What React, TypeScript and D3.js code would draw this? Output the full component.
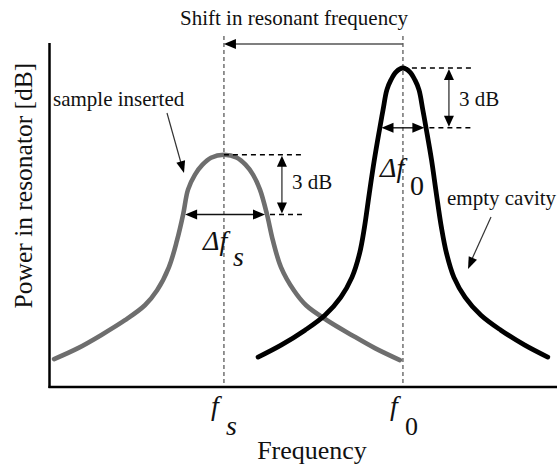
import React from "react";
import * as d3 from "d3";

// ---- data ----
// frequency axis in arbitrary units, power in dB (0 dB = empty-cavity peak)
const sampleFreq = [0.09, 0.56, 1.01, 1.48, 1.87, 2.11, 2.34, 2.5, 2.62, 2.716, 2.853, 3.0, 3.167, 3.42, 3.676, 3.843, 3.99, 4.127, 4.265, 4.38, 4.54, 4.79, 5.03, 5.44, 5.93, 6.38, 6.87];
const samplePower = [-14.6, -14.05, -13.4, -12.65, -11.9, -11.15, -10.0, -8.65, -7.35, -6.1, -5.35, -4.85, -4.5, -4.35, -4.5, -4.85, -5.35, -6.1, -7.35, -8.65, -10.0, -11.15, -11.9, -12.65, -13.4, -14.05, -14.65];

const emptyFreq = [4.09, 4.54, 5.01, 5.4, 5.71, 5.93, 6.08, 6.175, 6.27, 6.37, 6.47, 6.54, 6.615, 6.695, 6.795, 6.93, 7.065, 7.165, 7.245, 7.32, 7.39, 7.49, 7.585, 7.685, 7.785, 7.93, 8.15, 8.46, 8.85, 9.32, 9.77];
const emptyPower = [-14.5, -13.9, -13.15, -12.4, -11.5, -10.5, -9.3, -8.0, -6.3, -4.6, -3.1, -2.1, -1.1, -0.6, -0.2, 0, -0.2, -0.6, -1.1, -2.1, -3.1, -4.6, -6.3, -8.0, -9.3, -10.5, -11.5, -12.4, -13.15, -13.9, -14.5];

const resonantFreq = [3.42, 6.93]; // f_s, f_0
const peakPower = [-4.35, 0];
const halfPowerEdges = [
  [2.62, 4.265],
  [6.47, 7.39],
];
const tickSubscripts = ["s", "0"];
const titleShift = "Shift in resonant frequency";
const labelSample = "sample inserted";
const labelEmpty = "empty cavity";
const label3dB = "3 dB";
const xTitle = "Frequency";
const yTitle = "Power in resonator [dB]";

const W = 557;
const H = 469;
const serif = '"Liberation Serif", "Times New Roman", Times, "DejaVu Serif", serif';
const ff = { fontFamily: serif };

function head(tx: number, ty: number, fromX: number, fromY: number, len = 11, wid = 9) {
  const a = Math.atan2(ty - fromY, tx - fromX);
  const bx = tx - len * Math.cos(a);
  const by = ty - len * Math.sin(a);
  const px = (wid / 2) * Math.cos(a + Math.PI / 2);
  const py = (wid / 2) * Math.sin(a + Math.PI / 2);
  return `${tx},${ty} ${bx + px},${by + py} ${bx - px},${by - py}`;
}

export default function App() {
  const x = d3.scaleLinear().domain([0, 10]).range([49.5, 559.5]);
  const y = d3.scaleLinear().domain([-16, 0]).range([387, 68]);

  const line = d3
    .line<[number, number]>()
    .x((d) => x(d[0]))
    .y((d) => y(d[1]))
    .curve(d3.curveCatmullRom.alpha(0.5));

  const samplePts = sampleFreq.map((f, i) => [f, samplePower[i]] as [number, number]);
  const emptyPts = emptyFreq.map((f, i) => [f, emptyPower[i]] as [number, number]);

  const xs = x(resonantFreq[0]);
  const x0 = x(resonantFreq[1]);
  const axisY = y(-16);
  const axisX = x(0);

  const markers = resonantFreq.map((f, i) => {
    const cx = x(f);
    const pk = y(peakPower[i]);
    const hp = y(peakPower[i] - 3);
    const left = x(halfPowerEdges[i][0]) + 2;
    const right = x(halfPowerEdges[i][1]) - 2;
    const dashEnd = i === 0 ? cx + 78 : cx + 69;
    const vx = i === 0 ? cx + 58 : cx + 46;
    return { cx, pk, hp, left, right, dashEnd, vx };
  });

  return (
    <svg
      width={W}
      height={H}
      style={{ position: "absolute", left: 0, top: 0, background: "#fff", fontFamily: serif }}
    >
      {resonantFreq.map((f, i) => (
        <line
          key={"v" + i}
          x1={x(f)}
          x2={x(f)}
          y1={36}
          y2={axisY}
          stroke="#7a7a7a"
          strokeWidth={1.6}
          strokeDasharray="4,3"
        />
      ))}

      <text x={294} y={25} fontSize={21} textAnchor="middle" fill="#111" style={ff}>
        {titleShift}
      </text>
      <line x1={x0} x2={xs + 10} y1={44} y2={44} stroke="#555" strokeWidth={1.5} />
      <polygon points={head(xs, 44, x0, 44, 12, 10)} fill="#000" />

      <path d={line(samplePts) || ""} fill="none" stroke="#6e6e6e" strokeWidth={4.6} strokeLinecap="round" />
      <path d={line(emptyPts) || ""} fill="none" stroke="#000" strokeWidth={4.8} strokeLinecap="round" />

      {markers.map((m, i) => (
        <g key={"m" + i}>
          <line x1={m.cx} x2={m.dashEnd} y1={m.pk} y2={m.pk} stroke="#000" strokeWidth={1.6} strokeDasharray="5,4" />
          <line x1={m.right + 5} x2={m.dashEnd} y1={m.hp} y2={m.hp} stroke="#000" strokeWidth={1.6} strokeDasharray="5,4" />
          <line x1={m.vx} x2={m.vx} y1={m.pk + 8} y2={m.hp - 8} stroke="#333" strokeWidth={1.3} />
          <polygon points={head(m.vx, m.pk + 1, m.vx, m.hp, 11, 10)} fill="#000" />
          <polygon points={head(m.vx, m.hp - 1, m.vx, m.pk, 11, 10)} fill="#000" />
          <text x={m.vx + 10} y={i === 0 ? 189 : 106} fontSize={21} fill="#111" style={ff}>
            {label3dB}
          </text>
          <line x1={m.left + 8} x2={m.right - 8} y1={m.hp} y2={m.hp} stroke="#111" strokeWidth={1.4} />
          <polygon points={head(m.left, m.hp, m.right, m.hp, 12, 10)} fill="#000" />
          <polygon points={head(m.right, m.hp, m.left, m.hp, 12, 10)} fill="#000" />
        </g>
      ))}

      <text x={203} y={250} fontSize={28} fontStyle="italic" fill="#111" style={ff}>
        Δf
      </text>
      <text x={233} y={266} fontSize={28} fontStyle="italic" fill="#111" style={ff}>
        {tickSubscripts[0]}
      </text>
      <text x={380} y={177} fontSize={28} fontStyle="italic" fill="#111" style={ff}>
        Δf
      </text>
      <text x={410} y={195} fontSize={28} fill="#111" style={ff}>
        {tickSubscripts[1]}
      </text>

      <text x={53} y={106} fontSize={21} fill="#111" style={ff}>
        {labelSample}
      </text>
      <line x1={167} y1={113} x2={181} y2={163} stroke="#333" strokeWidth={1.2} />
      <polygon points={head(184, 173, 167, 113, 12, 9)} fill="#000" />
      <text x={447} y={205} fontSize={21} fill="#111" style={ff}>
        {labelEmpty}
      </text>
      <line x1={491} y1={217} x2={472} y2={259} stroke="#333" strokeWidth={1.2} />
      <polygon points={head(468, 269, 491, 217, 12, 9)} fill="#000" />

      <line x1={axisX} x2={axisX} y1={43} y2={axisY + 1} stroke="#000" strokeWidth={2.5} />
      <line x1={axisX - 1} x2={W} y1={axisY} y2={axisY} stroke="#000" strokeWidth={2.5} />

      {resonantFreq.map((f, i) => (
        <g key={"t" + i}>
          <text x={x(f) - 13} y={415} fontSize={28} fontStyle="italic" fill="#111" style={ff}>
            f
          </text>
          <text
            x={x(f) + 2}
            y={435}
            fontSize={i === 0 ? 28 : 26}
            fontStyle={i === 0 ? "italic" : "normal"}
            fill="#111"
            style={ff}
          >
            {tickSubscripts[i]}
          </text>
        </g>
      ))}

      <text x={312} y={459} fontSize={26} textAnchor="middle" fill="#111" style={ff}>
        {xTitle}
      </text>
      <text
        transform="translate(32,185.5) rotate(-90)"
        fontSize={25.5}
        textAnchor="middle"
        fill="#111"
        style={ff}
      >
        {yTitle}
      </text>
    </svg>
  );
}
